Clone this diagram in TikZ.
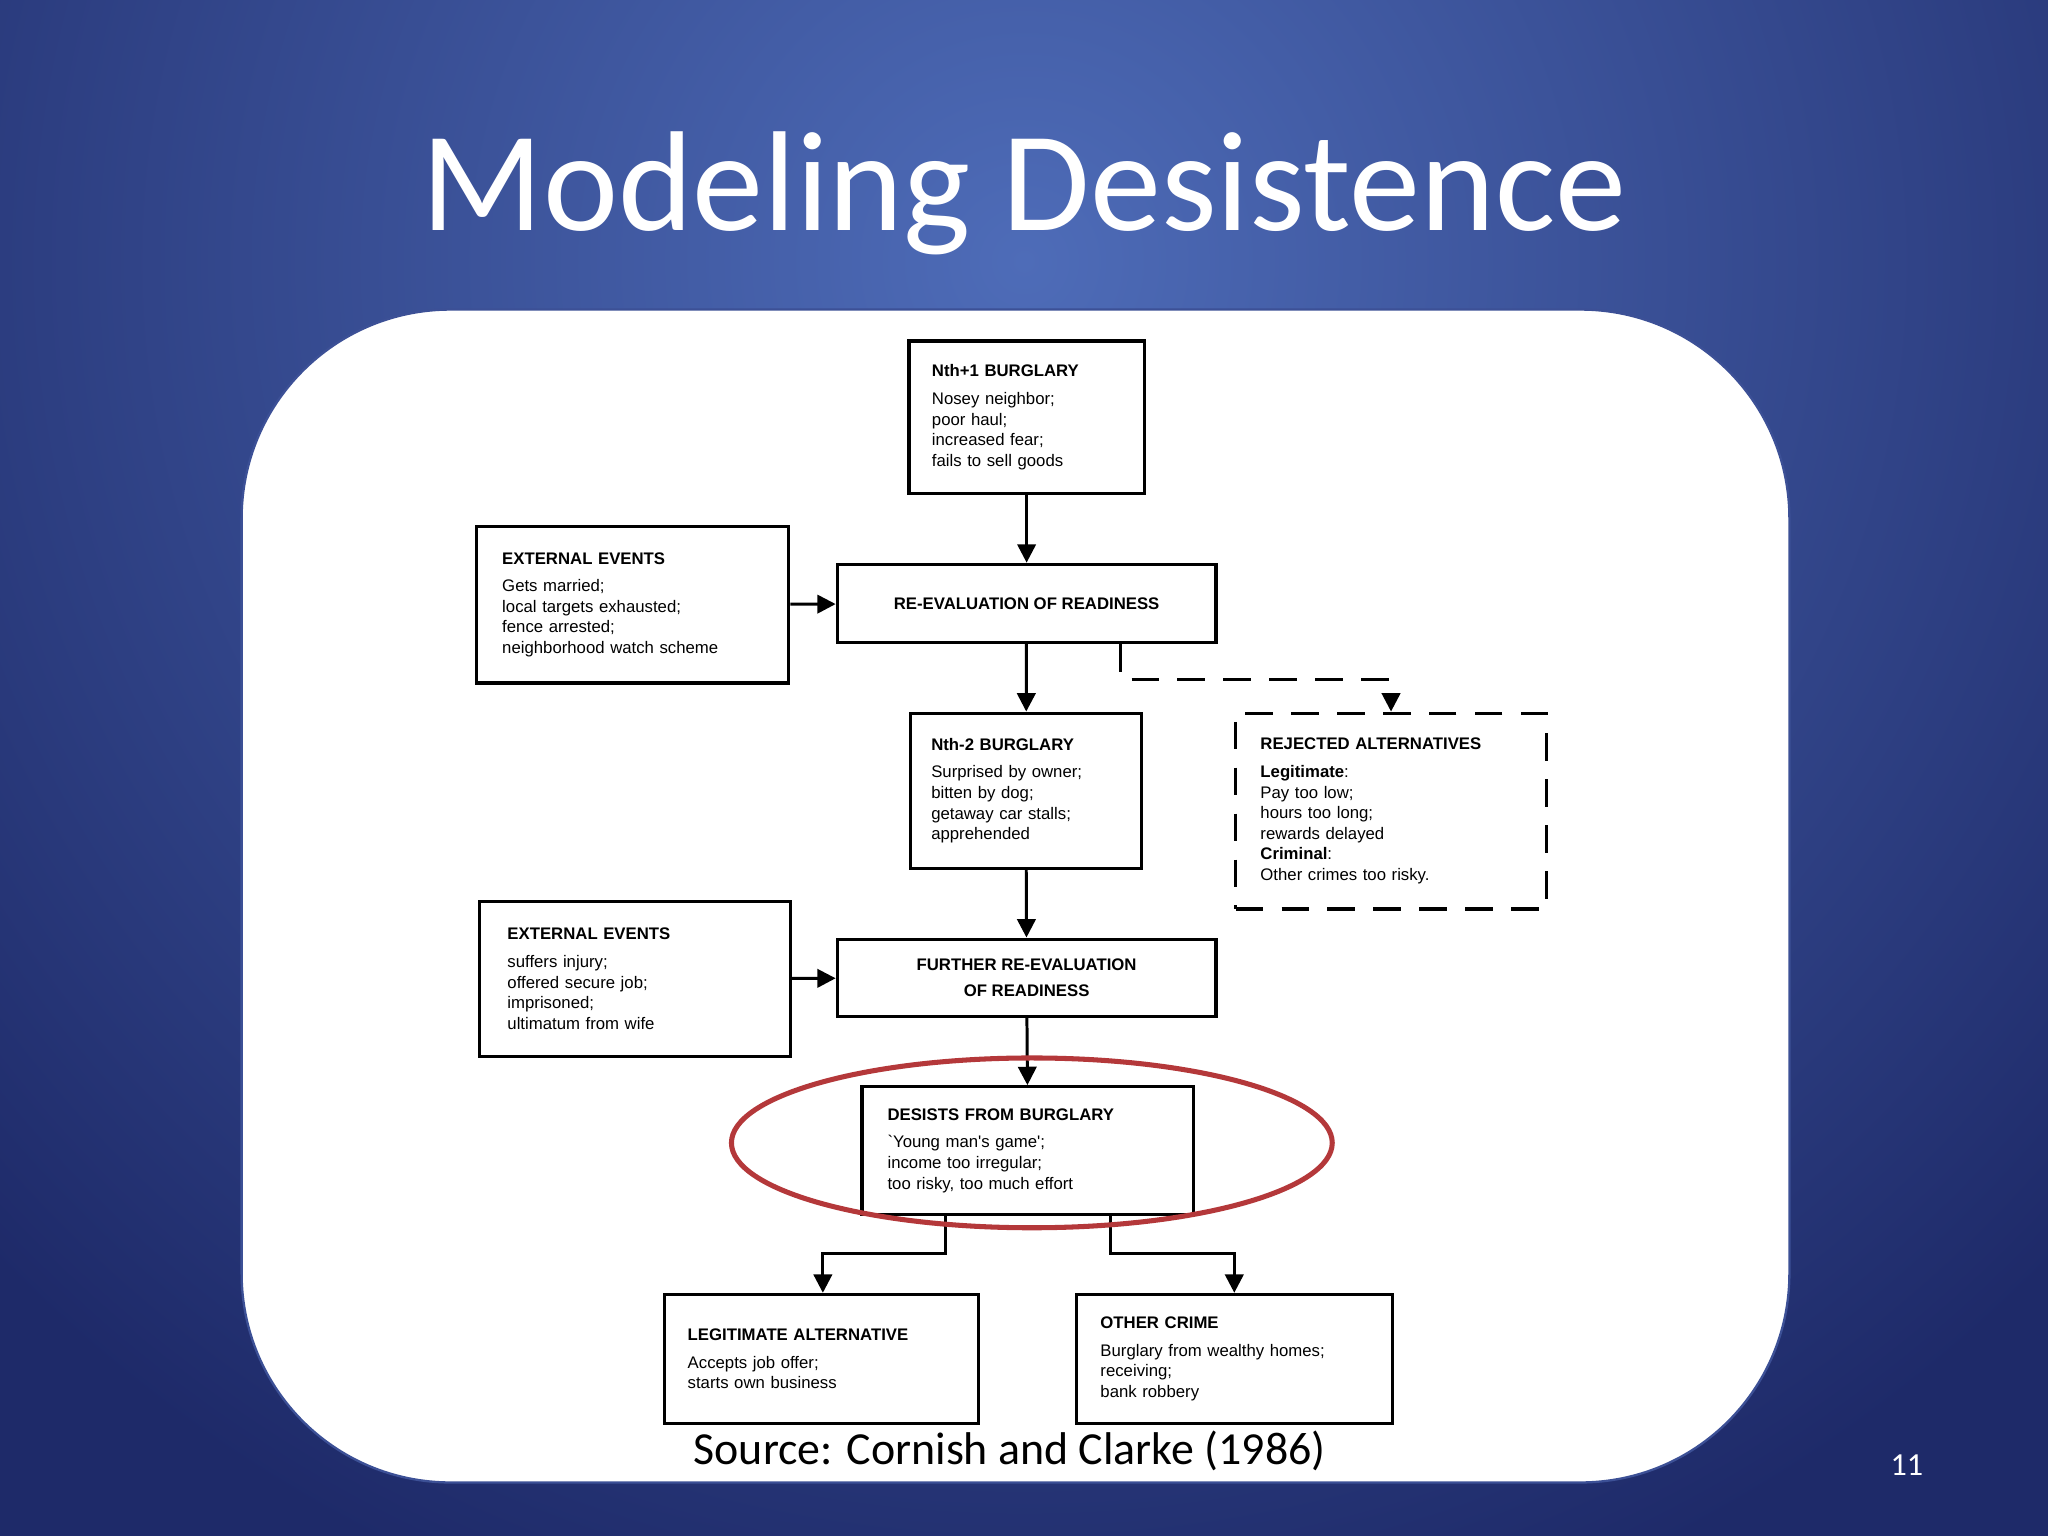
\documentclass[tikz,border=0pt]{standalone}
\usepackage{fontspec}
\setmainfont{Carlito}
\newfontfamily\boxfont{Liberation Sans}
\usetikzlibrary{arrows.meta}
\begin{document}
\begin{tikzpicture}[x=0.02cm,y=-0.02cm,
  box/.style={draw=black,line width=1.4pt,fill=white,font=\boxfont\fontsize{7.3}{9}\selectfont,align=left,inner sep=0pt},
  arr/.style={line width=1.3pt,-{Triangle[length=8pt,width=8pt]}}]
\useasboundingbox (0,0) rectangle (1568,1176);
\fill[black!5!blue!30!black,fill=blue!50!black] (0,0) rectangle (1568,1176);
\begin{scope}
\clip (0,0) rectangle (1568,1176);
\fill[fill={rgb,255:red,30;green,42;blue,105}] (0,0) rectangle (1568,1176);
\shade[inner color={rgb,255:red,78;green,108;blue,184},outer color={rgb,255:red,30;green,42;blue,105}] (784,200) circle (1100);
\end{scope}
\node[white,font=\fontsize{62}{70}\selectfont] (title) at (784,148) {Modeling Desistence};
\fill[white,draw={rgb,255:red,60;green,80;blue,150},line width=1pt,rounded corners=3.2cm] (185,237) rectangle (1370,1135);
\node[font=\fontsize{20}{24}\selectfont] (src) at (773,1111) {Source: Cornish and Clarke (1986)};
\node[white,font=\fontsize{14}{16}\selectfont] (pg) at (1460,1122) {11};

\node[box,minimum width=3.6cm,minimum height=2.34cm,text width=2.9cm] (n1) at (786,319.5)
 {\textbf{Nth+1 BURGLARY}\\[3pt]Nosey neighbor;\\poor haul;\\increased fear;\\fails to sell goods};
\node[box,minimum width=4.78cm,minimum height=2.4cm,text width=4.0cm] (e1) at (484.5,463)
 {\textbf{EXTERNAL EVENTS}\\[3pt]Gets married;\\local targets exhausted;\\fence arrested;\\neighborhood watch scheme};
\node[box,minimum width=5.8cm,minimum height=1.2cm] (r1) at (786,462) {\textbf{RE-EVALUATION OF READINESS}};
\node[box,minimum width=3.54cm,minimum height=2.38cm,text width=2.9cm] (n2) at (785.5,605.5)
 {\textbf{Nth-2 BURGLARY}\\[3pt]Surprised by owner;\\bitten by dog;\\getaway car stalls;\\apprehended};
\node[box,dashed,dash pattern=on 12pt off 8pt,minimum width=4.76cm,minimum height=3.0cm,text width=4.0cm] (rej) at (1065,621)
 {\textbf{REJECTED ALTERNATIVES}\\[3pt]\textbf{Legitimate}:\\Pay too low;\\hours too long;\\rewards delayed\\\textbf{Criminal}:\\Other crimes too risky.};
\node[box,minimum width=4.76cm,minimum height=2.38cm,text width=3.9cm] (e2) at (486,749.5)
 {\textbf{EXTERNAL EVENTS}\\[3pt]suffers injury;\\offered secure job;\\imprisoned;\\ultimatum from wife};
\node[box,minimum width=5.8cm,minimum height=1.18cm,align=center] (r2) at (786,748.5) {\textbf{FURTHER RE-EVALUATION}\\[2pt]\textbf{OF READINESS}};
\node[box,minimum width=5.08cm,minimum height=1.96cm,text width=4.3cm] (d) at (787,881)
 {\textbf{DESISTS FROM BURGLARY}\\[3pt]`Young man's game';\\income too irregular;\\too risky, too much effort};
\node[box,minimum width=4.8cm,minimum height=1.98cm,text width=4.1cm] (la) at (629,1040.5)
 {\textbf{LEGITIMATE ALTERNATIVE}\\[3pt]Accepts job offer;\\starts own business};
\node[box,minimum width=4.84cm,minimum height=1.98cm,text width=4.1cm] (oc) at (945,1040.5)
 {\textbf{OTHER CRIME}\\[3pt]Burglary from wealthy homes;\\receiving;\\bank robbery};

\draw[arr] (n1) -- (r1);
\draw[arr] (e1) -- (r1);
\draw[arr] (r1) -- (n2);
\draw[arr] (n2) -- (r2);
\draw[arr] (e2) -- (r2);
\draw[arr] (r2) -- (d);
\draw[arr,dashed,dash pattern=on 12pt off 8pt] (r1.south -| 858,0) |- (1065,520) -- (rej.north);
\draw[arr] (d.south -| 724,0) |- (630,960) -- (la.north -| 630,0);
\draw[arr] (d.south -| 850,0) |- (945,960) -- (oc.north);
\draw[line width=2.2pt,draw={rgb,255:red,180;green,56;blue,58}] (790,875) ellipse [x radius=230,y radius=65];
\end{tikzpicture}
\end{document}
